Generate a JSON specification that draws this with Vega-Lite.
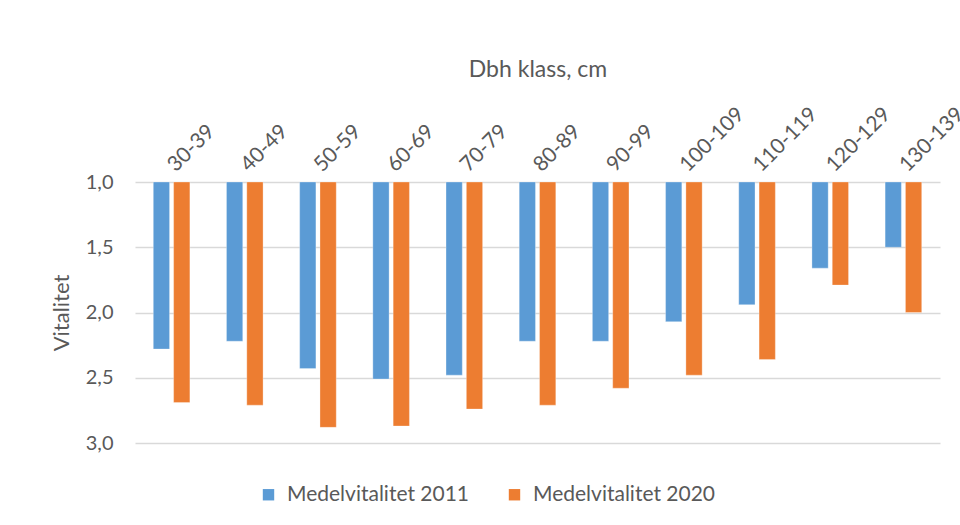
{
  "$schema": "https://vega.github.io/schema/vega-lite/v6.json",
  "width": 805,
  "height": 261,
  "autosize": {"type": "none"},
  "padding": {"left": 135, "top": 182, "right": 20, "bottom": 82},
  "background": "white",
  "data": {
    "values": [
      {"klass": "30-39", "serie": "Medelvitalitet 2011", "v": 2.28},
      {"klass": "30-39", "serie": "Medelvitalitet 2020", "v": 2.69},
      {"klass": "40-49", "serie": "Medelvitalitet 2011", "v": 2.22},
      {"klass": "40-49", "serie": "Medelvitalitet 2020", "v": 2.71},
      {"klass": "50-59", "serie": "Medelvitalitet 2011", "v": 2.43},
      {"klass": "50-59", "serie": "Medelvitalitet 2020", "v": 2.88},
      {"klass": "60-69", "serie": "Medelvitalitet 2011", "v": 2.51},
      {"klass": "60-69", "serie": "Medelvitalitet 2020", "v": 2.87},
      {"klass": "70-79", "serie": "Medelvitalitet 2011", "v": 2.48},
      {"klass": "70-79", "serie": "Medelvitalitet 2020", "v": 2.74},
      {"klass": "80-89", "serie": "Medelvitalitet 2011", "v": 2.22},
      {"klass": "80-89", "serie": "Medelvitalitet 2020", "v": 2.71},
      {"klass": "90-99", "serie": "Medelvitalitet 2011", "v": 2.22},
      {"klass": "90-99", "serie": "Medelvitalitet 2020", "v": 2.58},
      {"klass": "100-109", "serie": "Medelvitalitet 2011", "v": 2.07},
      {"klass": "100-109", "serie": "Medelvitalitet 2020", "v": 2.48},
      {"klass": "110-119", "serie": "Medelvitalitet 2011", "v": 1.94},
      {"klass": "110-119", "serie": "Medelvitalitet 2020", "v": 2.36},
      {"klass": "120-129", "serie": "Medelvitalitet 2011", "v": 1.66},
      {"klass": "120-129", "serie": "Medelvitalitet 2020", "v": 1.79},
      {"klass": "130-139", "serie": "Medelvitalitet 2011", "v": 1.5},
      {"klass": "130-139", "serie": "Medelvitalitet 2020", "v": 2.0}
    ]
  },
  "mark": {"type": "bar", "stroke": "white", "strokeWidth": 0.5, "strokeOpacity": 0.6},
  "encoding": {
    "x": {
      "field": "klass",
      "type": "nominal",
      "sort": null,
      "scale": {"paddingInner": 0.5, "paddingOuter": 0.25},
      "axis": {
        "orient": "top",
        "title": "Dbh klass, cm",
        "titleFont": "Lato",
        "titleFontSize": 23,
        "titleFontWeight": "normal",
        "titleColor": "#595959",
        "titleBaseline": "alphabetic",
        "titleY": -106,
        "labelAngle": -45,
        "labelAlign": "left",
        "labelBaseline": "middle",
        "labelPadding": 14,
        "labelFont": "Lato",
        "labelFontSize": 21,
        "labelColor": "#595959",
        "domain": false,
        "ticks": false,
        "grid": false
      }
    },
    "xOffset": {"field": "serie", "type": "nominal", "scale": {"paddingInner": 0.2}},
    "y": {
      "field": "v",
      "type": "quantitative",
      "scale": {"domain": [1, 3], "reverse": true, "zero": false, "nice": false},
      "axis": {
        "title": "Vitalitet",
        "titleFont": "Lato",
        "titleFontSize": 22,
        "titleFontWeight": "normal",
        "titleColor": "#595959",
        "titlePadding": 12,
        "values": [1, 1.5, 2, 2.5, 3],
        "labelExpr": "replace(format(datum.value, '.1f'), '.', ',')",
        "labelFont": "Lato",
        "labelFontSize": 20,
        "labelColor": "#595959",
        "labelPadding": 22,
        "domain": false,
        "ticks": false,
        "gridColor": "#D9D9D9",
        "gridWidth": 1.5
      }
    },
    "y2": {"datum": 1},
    "color": {
      "field": "serie",
      "type": "nominal",
      "scale": {"range": ["#5B9BD5", "#ED7D31"]},
      "legend": {
        "title": null,
        "orient": "none",
        "direction": "horizontal",
        "legendX": 123,
        "legendY": 302,
        "symbolType": "square",
        "symbolSize": 130,
        "symbolStrokeWidth": 0,
        "labelFont": "Lato",
        "labelFontSize": 21,
        "labelColor": "#595959",
        "labelOffset": 8,
        "labelLimit": 400,
        "columnPadding": 34
      }
    }
  },
  "config": {"view": {"stroke": null}}
}
